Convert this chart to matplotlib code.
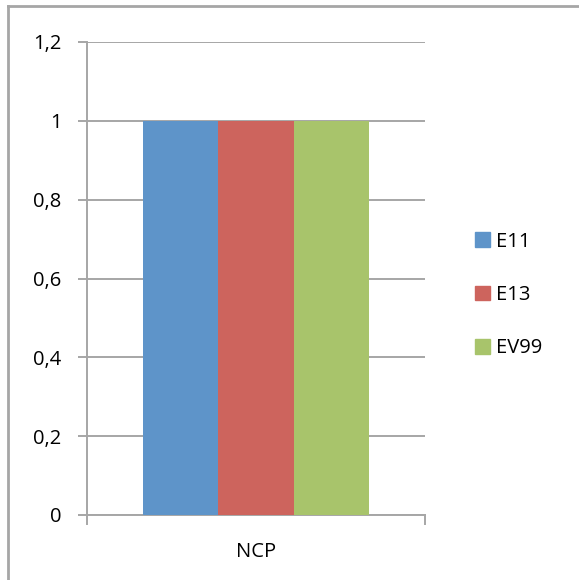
import matplotlib.pyplot as plt
import numpy as np
from matplotlib.lines import Line2D
from matplotlib.patches import Patch

categories = ['NCP']
series = ['E11', 'E13', 'EV99']
values = [[1.0], [1.0], [1.0]]
colors = ['#5e94c9', '#cd645d', '#a8c46b']
yticks = [0, 0.2, 0.4, 0.6, 0.8, 1.0, 1.2]
ytick_labels = ['0', '0,2', '0,4', '0,6', '0,8', '1', '1,2']

plt.rcParams['font.family'] = ['Open Sans', 'DejaVu Sans']

W, H = 579, 580
fig = plt.figure(figsize=(W / 100, H / 100), dpi=100)
ax = fig.add_axes([87 / W, 1 - 515 / H, (425 - 87) / W, (515 - 42) / H])

grey = '#a6a6a6'
fs = 14.5
n = len(series)
bw = 1 / (n + 1.5)
x = np.arange(len(categories))
for i, (s, v, c) in enumerate(zip(series, values, colors)):
    ax.bar(x - bw * n / 2 + bw * (i + 0.5), v, width=bw, color=c, label=s, zorder=3)

ax.set_xlim(-0.5, len(categories) - 0.5)
ax.set_ylim(0, 1.2)
ax.set_yticks(yticks)
ax.set_yticklabels(ytick_labels, fontsize=fs)
ax.yaxis.grid(True, color=grey, linewidth=1.4, zorder=0)
ax.set_xticks([])
for xb in [-0.5, len(categories) - 0.5]:
    ax.plot([xb, xb], [0, -0.022], color=grey, lw=1.4, clip_on=False)
for i, cat in enumerate(categories):
    ax.text(i, -0.095, cat, ha='center', va='center', fontsize=fs)
ax.tick_params(axis='y', length=6.5, width=1.4, color=grey, pad=12)
for sp in ['top', 'right']:
    ax.spines[sp].set_visible(False)
for sp in ['left', 'bottom']:
    ax.spines[sp].set_color(grey)
    ax.spines[sp].set_linewidth(1.4)

handles = [Patch(color=c, label=s) for s, c in zip(series, colors)]
fig.legend(handles=handles, loc='center left', bbox_to_anchor=(475 / W, 1 - 295 / H),
           frameon=False, fontsize=fs, handlelength=0.75, handleheight=0.75,
           handletextpad=0.3, labelspacing=1.65, borderpad=0, borderaxespad=0)

fig.add_artist(Line2D([8 / W, 8 / W], [0, 1 - 6 / H], color=grey, lw=2))
fig.add_artist(Line2D([8 / W, 1], [1 - 6 / H, 1 - 6 / H], color=grey, lw=2))

fig.savefig('out.png', dpi=100)
